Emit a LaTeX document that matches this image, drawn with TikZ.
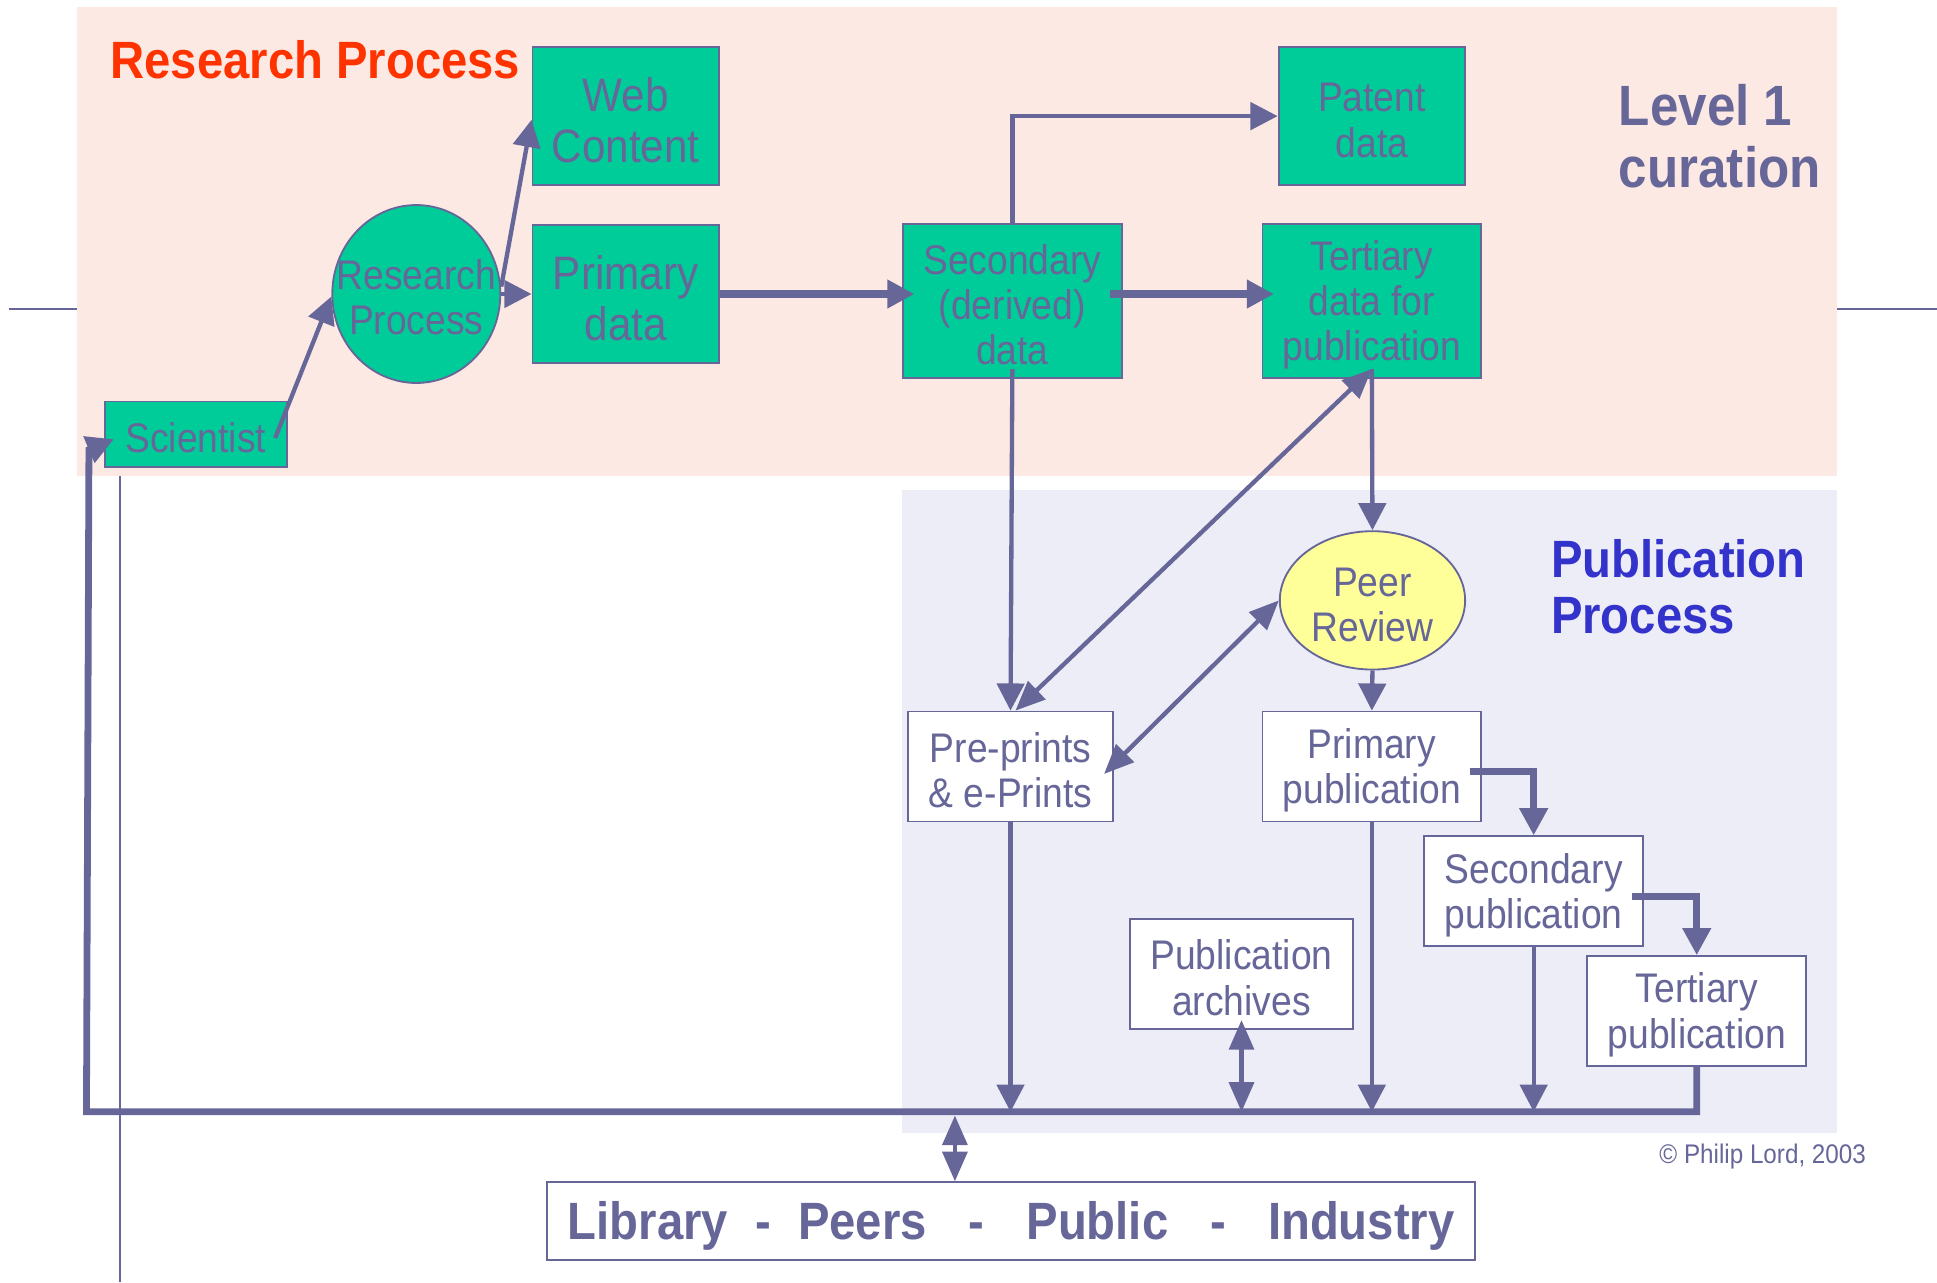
\documentclass[tikz,border=0pt]{standalone}
\usepackage{fontspec}
\setmainfont[FakeStretch=0.9]{Liberation Sans}
\usetikzlibrary{arrows.meta,shapes.geometric}
\definecolor{boxline}{HTML}{666699}
\definecolor{boxgreen}{HTML}{00CC99}
\definecolor{peerfill}{HTML}{FFFF99}
\definecolor{researchbg}{HTML}{FDE9E3}
\definecolor{publishbg}{HTML}{EDEDF8}
\definecolor{titlered}{HTML}{FF3300}
\definecolor{titleblue}{HTML}{3333CC}
\newcommand\boxstrut{\rule{0pt}{0.9em}}
\begin{document}
\begin{tikzpicture}[x=1pt, y=-1pt,
  greenbox/.style={draw=boxline, line width=1.5pt, fill=boxgreen, text=boxline, align=center, inner sep=0pt, font={\fontsize{33.5}{36.5}\selectfont}},
  whitebox/.style={greenbox, fill=white},
  arr/.style={draw=boxline, line width=3.5pt, -{Triangle[length=22pt, width=22pt]}},
  thickarr/.style={arr, line width=6pt},
  dblarr/.style={draw=boxline, line width=3.5pt, {Triangle[length=24pt, width=20pt]}-{Triangle[length=24pt, width=20pt]}},
  busline/.style={draw=boxline, line width=5.5pt, -{Triangle[length=22pt, width=22pt]}}]
\useasboundingbox (0,0) rectangle (1568,1037.8);
% template lines and backgrounds
\draw[boxline, line width=1.4pt] (7,250) -- (1568,250);
\draw[boxline, line width=1.4pt] (97,380) -- (97,1037.8);
\fill[researchbg] (62,6) rectangle (1487,385);
\fill[publishbg] (730,397) rectangle (1487,917);
\node[anchor=west, text=titlered, font={\fontsize{42.5}{46}\selectfont\bfseries}] (rtitle) at (86,48) {Research Process};
\node[anchor=west, align=left, text=boxline, font={\fontsize{46}{50}\selectfont\bfseries}] (ltitle) at (1307,110) {Level 1\\curation};
\node[anchor=west, align=left, text=titleblue, font={\fontsize{42.5}{46}\selectfont\bfseries}] (ptitle) at (1252,475) {Publication\\Process};
\node[anchor=east, text=boxline, font={\fontsize{21.8}{24}\selectfont}] (copy) at (1514,936) {© Philip Lord, 2003};
% research nodes
\node[greenbox, minimum width=147pt, minimum height=53pt] (sci) at (158.5,351.5) {\boxstrut Scientist};
\node[greenbox, ellipse, inner xsep=-20pt, minimum width=136pt, minimum height=144pt] (rp) at (337,238) {\boxstrut Research\\Process};
\node[greenbox, minimum width=151pt, minimum height=112pt, font={\fontsize{38}{41}\selectfont}] (web) at (506.5,94) {\boxstrut Web\\Content};
\node[greenbox, minimum width=151pt, minimum height=112pt, font={\fontsize{38}{41}\selectfont}] (pdata) at (506.5,238) {\boxstrut Primary\\data};
\node[greenbox, minimum width=177pt, minimum height=125pt] (sdata) at (819.5,243.5) {\boxstrut Secondary\\(derived)\\data};
\node[greenbox, minimum width=151pt, minimum height=112pt] (patent) at (1110.5,94) {\boxstrut Patent\\data};
\node[greenbox, minimum width=177pt, minimum height=125pt] (tdata) at (1110.5,243.5) {\boxstrut Tertiary\\data for\\publication};
% publication nodes
\node[whitebox, minimum width=166pt, minimum height=89pt] (pre) at (818,620.5) {\boxstrut Pre-prints\\\& e-Prints};
\node[greenbox, ellipse, fill=peerfill, minimum width=150pt, minimum height=112pt] (peer) at (1111,486) {\boxstrut Peer\\Review};
\node[whitebox, minimum width=177pt, minimum height=89pt] (ppub) at (1110.5,620.5) {\boxstrut Primary\\publication};
\node[whitebox, minimum width=177pt, minimum height=89pt] (spub) at (1241.5,721.5) {\boxstrut Secondary\\publication};
\node[whitebox, minimum width=180pt, minimum height=89pt] (arch) at (1005,788.5) {\boxstrut Publication\\archives};
\node[whitebox, minimum width=177pt, minimum height=89pt] (tpub) at (1373.5,818.5) {\boxstrut Tertiary\\publication};
\node[whitebox, minimum width=751pt, minimum height=63pt, font={\fontsize{42.5}{46}\selectfont\bfseries}] (lib) at (818.5,988.5) {\boxstrut Library\hspace{22pt}-\hspace{22pt}Peers\hspace{34pt}-\hspace{34pt}Public\hspace{34pt}-\hspace{34pt}Industry};
\coordinate (busL) at (70,900);
\coordinate (bend) at (72,364);
\coordinate (busJ) at (773,903);
% connectors
\draw[arr] ([shift={(-10,3)}]sci.east) -- ([yshift=-2]rp.west);
\draw[arr] ([yshift=6]rp.east) -- ([yshift=-3]web.west);
\draw[arr] (rp.east) -- (pdata.west);
\draw[thickarr] (pdata.east) -- ([xshift=10]pdata.east -| sdata.west);
\draw[arr] (sdata.north) |- (patent.west);
\draw[thickarr] ([xshift=-10]pdata.east -| sdata.east) -- ([xshift=10]pdata.east -| tdata.west);
\draw[arr] ([yshift=8]sdata.south) -- (pre.north);
\draw[dblarr] ([yshift=8]tdata.south) -- ([xshift=4]pre.north);
\draw[arr] ([yshift=8]tdata.south) -- (peer.north);
\draw[dblarr] ([shift={(-8,6)}]pre.east) -- (peer.west);
\draw[arr] (peer.south) -- (ppub.north);
\draw[thickarr] ([shift={(-10,4)}]ppub.east) -| (spub.north);
\draw[thickarr] ([shift={(-10,4)}]spub.east) -| (tpub.north);
\draw[busline] (tpub.south) |- (busL) -- (bend) -- ([shift={(8,4)}]sci.west);
\draw[arr] (pre.south) -- (pre.south |- busL);
\draw[dblarr] ([yshift=8]arch.south) -- (arch.south |- busL);
\draw[arr] (ppub.south) -- (ppub.south |- busL);
\draw[arr] (spub.south) -- (spub.south |- busL);
\draw[dblarr] (busJ) -- (busJ |- lib.north);
\end{tikzpicture}
\end{document}
